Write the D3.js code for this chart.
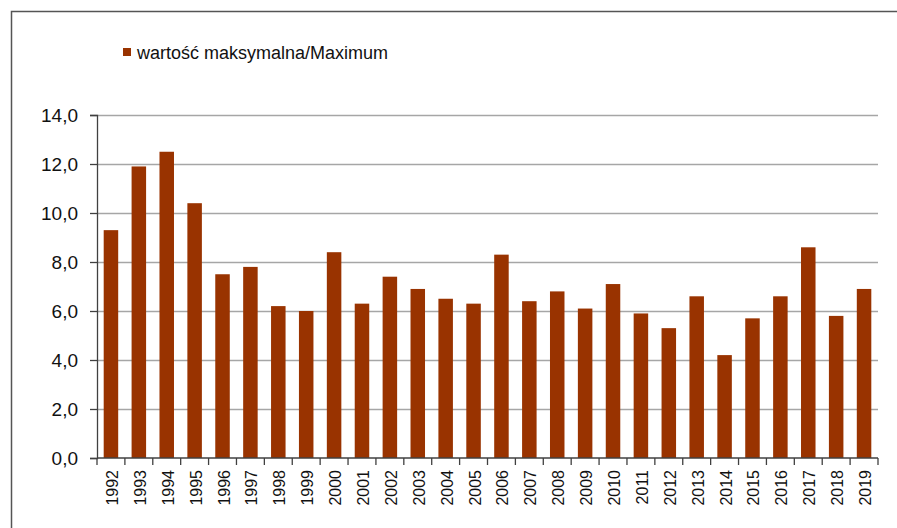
<!DOCTYPE html>
<html>
<head>
<meta charset="utf-8">
<script src="https://cdn.jsdelivr.net/npm/d3@7"></script>
<style>
	body { margin: 0; background: #fff; }
	svg { display: block; font-family: "Liberation Sans", Arial, sans-serif; }
</style>
</head>
<body>
<div id="chart"></div>
<script>

// data
var years = ["1992","1993","1994","1995","1996","1997","1998","1999","2000","2001",
	"2002","2003","2004","2005","2006","2007","2008","2009","2010","2011",
	"2012","2013","2014","2015","2016","2017","2018","2019"];

var maxValues = [9.3, 11.9, 12.5, 10.4, 7.5, 7.8, 6.2, 6.0, 8.4, 6.3,
	7.4, 6.9, 6.5, 6.3, 8.3, 6.4, 6.8, 6.1, 7.1, 5.9,
	5.3, 6.6, 4.2, 5.7, 6.6, 8.6, 5.8, 6.9];

var yTicks = [0, 2, 4, 6, 8, 10, 12, 14];

var legendLabel = "wartość maksymalna/Maximum";


var width = 897, height = 528;
var plot = { left: 97, right: 878, top: 115, bottom: 458 };

var svg = d3.select("#chart").append("svg")
	.attr("width", width)
	.attr("height", height);

// outer frame (right and bottom edges fall outside the picture)
svg.append("path")
	.attr("d", "M11.5," + (height + 2) + "V11.5H" + (width + 2))
	.attr("fill", "none")
	.attr("stroke", "#555")
	.attr("stroke-width", 1.5);

var x = d3.scaleBand()
	.domain(years)
	.range([plot.left, plot.right])
	.paddingInner(0.48)
	.paddingOuter(0.24);

var y = d3.scaleLinear()
	.domain([0, 14])
	.range([plot.bottom, plot.top]);

// gridlines
svg.append("g")
	.selectAll("line")
	.data(yTicks.filter(function(d) { return d > 0; }))
	.join("line")
	.attr("x1", plot.left)
	.attr("x2", plot.right)
	.attr("y1", function(d) { return Math.round(y(d)) + 0.5; })
	.attr("y2", function(d) { return Math.round(y(d)) + 0.5; })
	.attr("stroke", "#a6a6a6")
	.attr("stroke-width", 1.3);

// bars
svg.append("g")
	.selectAll("rect")
	.data(maxValues)
	.join("rect")
	.attr("x", function(d, i) { return x(years[i]); })
	.attr("y", function(d) { return y(d); })
	.attr("width", x.bandwidth())
	.attr("height", function(d) { return y(0) - y(d); })
	.attr("fill", "#993300");

// y axis
var yAxis = svg.append("g")
	.attr("transform", "translate(" + plot.left + ",0)")
	.call(d3.axisLeft(y)
		.tickValues(yTicks)
		.tickSize(7)
		.tickPadding(12)
		.tickFormat(function(d) { return d3.format(".1f")(d).replace(".", ","); }));

yAxis.select(".domain").attr("stroke", "#404040").attr("stroke-width", 1.3);
yAxis.selectAll(".tick line").attr("stroke", "#404040").attr("stroke-width", 1.3);
yAxis.selectAll(".tick text")
	.attr("fill", "#111")
	.attr("font-size", "19px")
	.attr("font-family", "Liberation Sans, Arial, sans-serif");

// x axis: ticks sit between categories
var xAxisG = svg.append("g")
	.attr("transform", "translate(0," + plot.bottom + ")");

xAxisG.append("line")
	.attr("x1", plot.left)
	.attr("x2", plot.right)
	.attr("stroke", "#404040")
	.attr("stroke-width", 1.3);

var step = x.step();
var edges = d3.range(years.length + 1).map(function(i) { return plot.left + i * step; });

xAxisG.selectAll(".xtick")
	.data(edges)
	.join("line")
	.attr("class", "xtick")
	.attr("x1", function(d) { return d; })
	.attr("x2", function(d) { return d; })
	.attr("y1", 0)
	.attr("y2", 7)
	.attr("stroke", "#404040")
	.attr("stroke-width", 1.3);

xAxisG.selectAll(".xlabel")
	.data(years)
	.join("text")
	.attr("class", "xlabel")
	.attr("transform", function(d) {
		return "translate(" + (x(d) + x.bandwidth() / 2 + 7) + ",12) rotate(-90)";
	})
	.attr("text-anchor", "end")
	.attr("font-size", "16px")
	.attr("fill", "#111")
	.text(function(d) { return d; });

// legend
var legend = svg.append("g").attr("transform", "translate(123,48)");

legend.append("rect")
	.attr("width", 8)
	.attr("height", 8)
	.attr("fill", "#993300");

legend.append("text")
	.attr("x", 14)
	.attr("y", 11)
	.attr("font-size", "18px")
	.attr("fill", "#111")
	.text(legendLabel);

</script>
</body>
</html>
